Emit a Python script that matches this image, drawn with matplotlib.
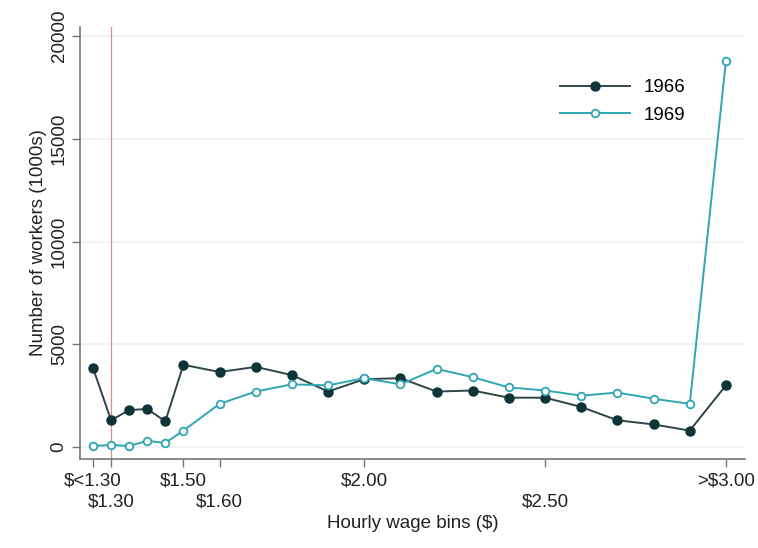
import matplotlib.pyplot as plt

plt.rcParams['font.family'] = ['Liberation Sans', 'DejaVu Sans']

# wage bins (x positions) and worker counts (1000s)
wage_bins = [1.25, 1.30, 1.35, 1.40, 1.45, 1.50, 1.60, 1.70, 1.80, 1.90, 2.00,
             2.10, 2.20, 2.30, 2.40, 2.50, 2.60, 2.70, 2.80, 2.90, 3.00]
workers_1966 = [3850, 1300, 1800, 1850, 1250, 4000, 3650, 3900, 3500, 2700, 3300,
                3350, 2700, 2750, 2400, 2400, 1950, 1300, 1100, 800, 3000]
workers_1969 = [50, 100, 50, 300, 200, 800, 2100, 2700, 3050, 3000, 3350,
                3050, 3800, 3400, 2900, 2750, 2500, 2650, 2350, 2100, 18800]

# two staggered rows of x tick labels
row1_pos = [1.25, 1.50, 2.00, 3.00]
row1_labels = [r'\$<1.30', r'\$1.50', r'\$2.00', r'>\$3.00']
row2_pos = [1.30, 1.60, 2.50]
row2_labels = [r'\$1.30', r'\$1.60', r'\$2.50']
y_ticks = [0, 5000, 10000, 15000, 20000]
min_wage = 1.30

fs = 13.5
txt = '#222222'
axis_col = '#777777'

fig = plt.figure(figsize=(7.58, 5.48), dpi=100)
ax = fig.add_axes([0.1055, 0.1624, 0.8775, 0.7883])

# 网格线
for y in y_ticks:
    ax.axhline(y, color='#eaf2f3', lw=1.2, zorder=0)

ax.axvline(min_wage, color='#e08a8a', lw=0.9, zorder=1)

ax.plot(wage_bins, workers_1966, color='#2f4547', lw=1.4, marker='o',
        markersize=6.5, markerfacecolor='#0d3436', markeredgecolor='#0d3436',
        label='1966', zorder=3)
ax.plot(wage_bins, workers_1969, color='#2ea6b3', lw=1.4, marker='o',
        markersize=5.5, markerfacecolor='white', markeredgecolor='#2ea6b3',
        markeredgewidth=1.3, label='1969', zorder=3)

ax.set_xlim(1.214, 3.053)
ax.set_ylim(-583, 20437)
ax.set_xticks(row1_pos)
ax.set_xticklabels(row1_labels, fontsize=fs, color=txt)
ax.set_xticks(row2_pos, minor=True)
ax.set_xticklabels(row2_labels, minor=True, fontsize=fs, color=txt)
ax.set_yticks(y_ticks)
ax.set_yticklabels([str(v) for v in y_ticks], fontsize=fs, color=txt,
                   rotation=90, va='center')

ax.set_xlabel('Hourly wage bins ($)', fontsize=fs, color=txt, labelpad=3)
ax.set_ylabel('Number of workers (1000s)', fontsize=fs, color=txt, labelpad=3)

for side in ['top', 'right']:
    ax.spines[side].set_visible(False)
for side in ['left', 'bottom']:
    ax.spines[side].set_color(axis_col)
    ax.spines[side].set_linewidth(1.2)
ax.tick_params(axis='both', which='both', direction='out', length=5.8,
               width=1, color=axis_col)
ax.tick_params(axis='x', which='major', pad=4)
ax.tick_params(axis='x', which='minor', pad=19)
ax.tick_params(axis='y', pad=3)

ax.legend(loc='upper left', bbox_to_anchor=(560 / 758, 1 - 79 / 548),
          bbox_transform=fig.transFigure, frameon=False, fontsize=fs,
          handlelength=3.75, handletextpad=0.7, labelspacing=0.55,
          borderpad=0, borderaxespad=0)

plt.savefig('out.png', dpi=100)
